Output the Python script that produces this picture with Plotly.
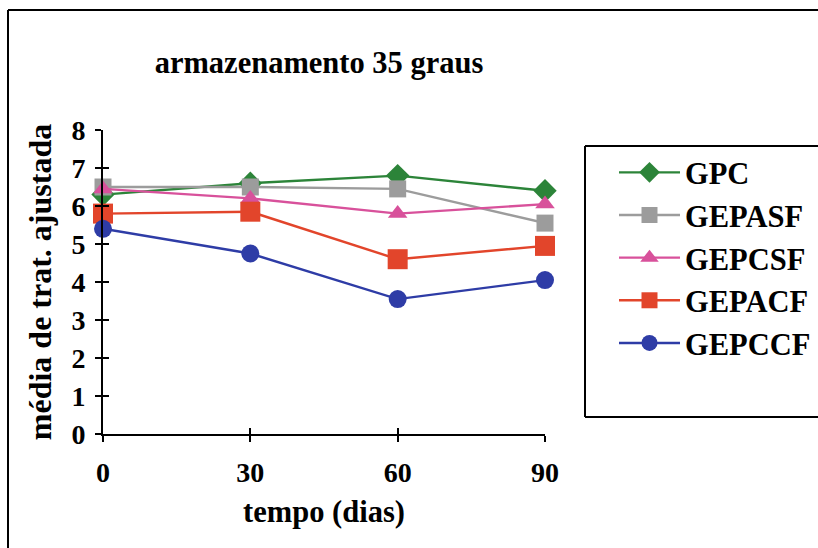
import plotly.graph_objects as go

dias = [0, 30, 60, 90]
series_names = ["GPC", "GEPASF", "GEPCSF", "GEPACF", "GEPCCF"]
gpc = [6.3, 6.6, 6.8, 6.4]
gepasf = [6.5, 6.5, 6.45, 5.55]
gepcsf = [6.45, 6.2, 5.8, 6.05]
gepacf = [5.8, 5.85, 4.6, 4.95]
gepccf = [5.4, 4.75, 3.55, 4.05]
y_ticks = [0, 1, 2, 3, 4, 5, 6, 7, 8]

values = [gpc, gepasf, gepcsf, gepacf, gepccf]
colors = ["#2c8439", "#9c9c9c", "#d8519b", "#e2452b", "#2e3ca6"]
symbols = ["diamond", "square", "triangle-up", "square", "circle"]
sizes = [18, 17, 17, 20, 18]

FONT = "Liberation Serif, Times New Roman, serif"
W, H = 818, 548

fig = go.Figure()
for name, vals, c, s, sz in zip(series_names, values, colors, symbols, sizes):
    fig.add_trace(go.Scatter(
        x=dias, y=vals, name=f"<b>{name}</b>", mode="lines+markers",
        line=dict(color=c, width=2.4),
        marker=dict(symbol=s, size=sz, color=c, line=dict(width=0)),
        cliponaxis=False,
    ))

axis_common = dict(showgrid=False, zeroline=False, showline=True, linecolor="black",
                   linewidth=2, ticks="outside", ticklen=6, tickwidth=2, tickcolor="black")

fig.update_layout(
    width=W, height=H,
    margin=dict(l=103, r=273, t=130, b=114, autoexpand=False),
    paper_bgcolor="white", plot_bgcolor="white",
    font=dict(family=FONT, color="black", size=28),
    title=dict(text="<b>armazenamento 35 graus</b>", x=319 / W, xanchor="center",
               y=1 - 62 / H, yanchor="middle", font=dict(family=FONT, size=30.5, color="black")),
    xaxis=dict(range=[0, 90], tickvals=dias, ticktext=[f"<b>{d}</b>" for d in dias],
               ticklabelstandoff=6,
               title=dict(text="<b>tempo (dias)</b>", standoff=14, font=dict(size=30.5)),
               **axis_common),
    yaxis=dict(range=[0, 8], tickvals=y_ticks, ticktext=[f"<b>{t}</b>" for t in y_ticks],
               ticklabelstandoff=4,
               title=dict(text="<b>média de trat. ajustada</b>", standoff=10, font=dict(size=32)),
               **axis_common),
    xaxis2=dict(range=[0, 90], overlaying="x", tickvals=dias, showticklabels=False,
                showgrid=False, zeroline=False, ticks="inside", ticklen=6, tickwidth=2,
                tickcolor="black", side="bottom", anchor="y"),
    yaxis2=dict(range=[0, 8], overlaying="y", tickvals=y_ticks, showticklabels=False,
                showgrid=False, zeroline=False, ticks="inside", ticklen=6, tickwidth=2,
                tickcolor="black", side="left", anchor="x"),
    legend=dict(xref="container", yref="container",
                x=614 / W, xanchor="left", y=1 - 146 / H, yanchor="top",
                borderwidth=0, bgcolor="rgba(0,0,0,0)",
                font=dict(family=FONT, size=30.5, color="black"),
                itemwidth=61, tracegroupgap=5.5),
    showlegend=True,
)

fig.add_trace(go.Scatter(x=[None], y=[None], xaxis="x2", yaxis="y2", showlegend=False,
                         hoverinfo="skip"))

def px_x(p):
    return (p - 103) / 442

def px_y(p):
    return (434 - p) / 304

line_style = dict(color="black", width=2)
# outer chart frame: only left and top edges are inside the scanned area
fig.add_shape(type="line", xref="paper", yref="paper", x0=px_x(8), x1=px_x(8),
              y0=px_y(548), y1=px_y(10), line=line_style)
fig.add_shape(type="line", xref="paper", yref="paper", x0=px_x(8), x1=px_x(818),
              y0=px_y(10), y1=px_y(10), line=line_style)
# legend frame (cut off at the right edge)
fig.add_shape(type="rect", xref="paper", yref="paper", x0=px_x(585), x1=px_x(818),
              y0=px_y(417), y1=px_y(146), line=dict(width=0), fillcolor="white", layer="below")
fig.add_shape(type="line", xref="paper", yref="paper", x0=px_x(585), x1=px_x(585),
              y0=px_y(417), y1=px_y(146), line=line_style)
fig.add_shape(type="line", xref="paper", yref="paper", x0=px_x(585), x1=px_x(818),
              y0=px_y(146), y1=px_y(146), line=line_style)
fig.add_shape(type="line", xref="paper", yref="paper", x0=px_x(585), x1=px_x(818),
              y0=px_y(417), y1=px_y(417), line=line_style)

fig.write_html(
    "out.html",
    post_script="document.documentElement.style.overflow='hidden';document.body.style.overflow='hidden';document.body.style.margin='0';",
)
